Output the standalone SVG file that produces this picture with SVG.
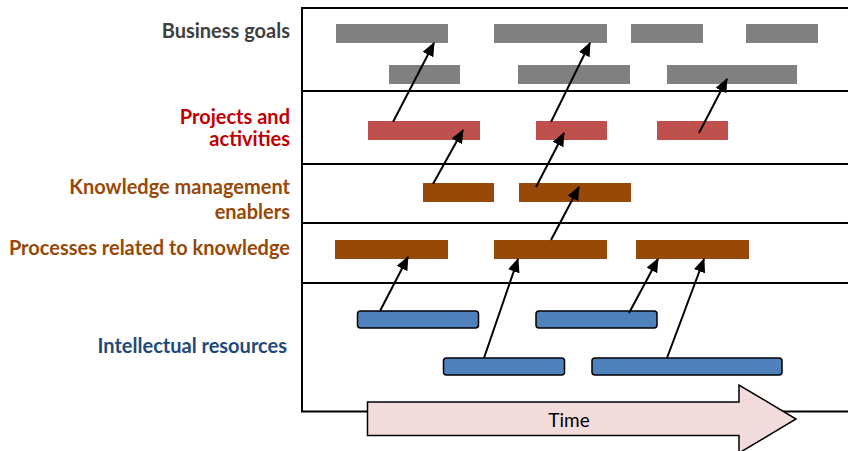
<svg xmlns="http://www.w3.org/2000/svg" width="848" height="451" viewBox="0 0 848 451">
<style>
.lbl{font-family:Lato,"Liberation Sans",sans-serif;font-weight:bold;font-size:20px;text-anchor:end}
.gray{fill:#808080}
.red{fill:#c0504d}
.brown{fill:#984807}
.blue{fill:#4f81bd;stroke:#000;stroke-width:1.5}
.frame{stroke:#000;stroke-width:2;fill:none}
.conn line{stroke:#000;stroke-width:2;marker-end:url(#ah)}
</style>
<defs>
<marker id="ah" viewBox="0 0 14 12" refX="13" refY="6" markerWidth="14" markerHeight="12" markerUnits="userSpaceOnUse" orient="auto">
<path d="M0,0 L14,6 L0,12 z" fill="#000"/>
</marker>
</defs>
<rect width="848" height="451" fill="#fff"/>
<g id="frame">
<path class="frame" d="M860,8 H302 V411.5 H860"/>
<line class="frame" x1="302" y1="91" x2="860" y2="91"/>
<line class="frame" x1="302" y1="164" x2="860" y2="164"/>
<line class="frame" x1="302" y1="223" x2="860" y2="223"/>
<line class="frame" x1="302" y1="283" x2="860" y2="283"/>
</g>
<g id="labels">
<text class="lbl" x="290" y="38" fill="#404040">Business goals</text>
<text class="lbl" x="290" y="124" fill="#c00000">Projects and</text>
<text class="lbl" x="290" y="146" fill="#c00000">activities</text>
<text class="lbl" x="290" y="194" fill="#984807">Knowledge management</text>
<text class="lbl" x="290" y="219" fill="#984807">enablers</text>
<text class="lbl" x="290" y="255" fill="#984807">Processes related to knowledge</text>
<text class="lbl" x="287" y="353" fill="#1f497d">Intellectual resources</text>
</g>
<g id="business-goals">
<rect class="gray" x="336" y="24" width="112" height="19"/>
<rect class="gray" x="494" y="24" width="113" height="19"/>
<rect class="gray" x="631" y="24" width="72" height="19"/>
<rect class="gray" x="746" y="24" width="72" height="19"/>
<rect class="gray" x="389" y="65" width="71" height="19"/>
<rect class="gray" x="518" y="65" width="112" height="19"/>
<rect class="gray" x="667" y="65" width="130" height="19"/>
</g>
<g id="projects">
<rect class="red" x="368" y="121" width="112" height="19"/>
<rect class="red" x="536" y="121" width="71" height="19"/>
<rect class="red" x="657" y="121" width="71" height="19"/>
</g>
<g id="km-enablers">
<rect class="brown" x="423" y="183" width="71" height="19"/>
<rect class="brown" x="519" y="183" width="112" height="19"/>
</g>
<g id="processes">
<rect class="brown" x="335" y="240" width="113" height="19"/>
<rect class="brown" x="494" y="240" width="113" height="19"/>
<rect class="brown" x="636" y="240" width="113" height="19"/>
</g>
<g id="intellectual-resources">
<rect class="blue" x="357.5" y="311" width="121" height="17" rx="3"/>
<rect class="blue" x="536" y="311" width="121" height="17" rx="3"/>
<rect class="blue" x="443.5" y="358" width="121" height="17" rx="3"/>
<rect class="blue" x="592" y="358" width="190" height="17" rx="3"/>
</g>
<g id="connectors" class="conn">
<line x1="393" y1="122" x2="434" y2="43"/>
<line x1="551" y1="122" x2="590" y2="43"/>
<line x1="699" y1="133" x2="727" y2="79"/>
<line x1="433" y1="184" x2="463" y2="130"/>
<line x1="536" y1="187" x2="564" y2="133"/>
<line x1="551" y1="240" x2="579" y2="187"/>
<line x1="380" y1="311" x2="408" y2="257"/>
<line x1="484" y1="358" x2="518" y2="259"/>
<line x1="629" y1="313" x2="658" y2="259"/>
<line x1="667" y1="358" x2="704" y2="259"/>
</g>
<g id="time">
<path d="M367.5,402 H739 V385 L796,419 L739,453 V435.5 H367.5 Z" fill="#f2dcdb" stroke="#000" stroke-width="1.5"/>
<text x="569" y="427" font-family="Lato,'Liberation Sans',sans-serif" font-size="19" text-anchor="middle" fill="#000">Time</text>
</g>
</svg>
